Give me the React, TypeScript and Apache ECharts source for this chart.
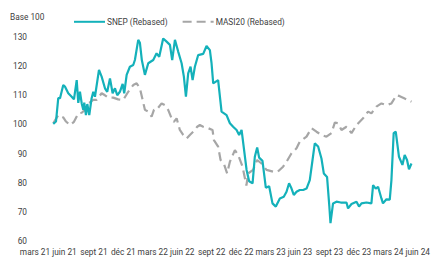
import React, { useEffect, useRef } from "react";
import * as echarts from "echarts";

// months since March 2021
const tickLabels = ["mars 21", "juin 21", "sept 21", "déc 21", "mars 22", "juin 22", "sept 22", "déc 22", "mars 23", "juin 23", "sept 23", "déc 23", "mars 24", "juin 24"];

const snepMonths = [1.86, 2.14, 2.37, 2.55, 2.88, 3.05, 3.39, 3.74, 3.97, 4.25, 4.41, 4.58, 4.76, 4.92, 5.02, 5.19, 5.33, 5.53, 5.77, 5.94, 6.11, 6.52, 6.79, 7.13, 7.36, 7.64, 7.91, 8.15, 8.38, 8.65, 8.93, 9.09, 9.34, 9.67, 10.01, 10.18, 10.52, 10.69, 10.89, 11.2, 11.54, 12.05, 12.39, 12.66, 13.06, 13.41, 13.75, 13.98, 14.26, 14.59, 14.94, 15.17, 15.38, 15.61, 15.85, 16.06, 16.29, 16.63, 17.14, 17.48, 17.82, 17.99, 18.16, 18.66, 19.01, 19.52, 19.86, 20.19, 20.54, 20.8, 21.05, 21.56, 21.82, 22.17, 22.4, 22.64, 22.84, 23.18, 23.52, 23.86, 24.2, 24.54, 24.95, 25.35, 25.63, 25.89, 26.14, 26.37, 26.65, 26.98, 27.32, 27.67, 28.0, 28.28, 28.51, 28.85, 29.19, 29.43, 29.76, 29.99, 30.11, 30.37, 30.72, 31.16, 31.74, 31.9, 32.25, 32.76, 33.02, 33.27, 33.77, 34.28, 34.45, 34.72, 34.96, 35.3, 35.46, 35.81, 36.15, 36.32, 36.55, 36.76, 37.09, 37.44, 37.67, 37.91, 38.11, 38.36];
const snepValues = [100.2, 101, 109, 109, 113.5, 113, 110.7, 109.5, 108.6, 115.2, 107.4, 111.2, 107.2, 105, 107.5, 103.2, 107, 103.2, 109, 111.2, 109.5, 118.7, 116.4, 112.4, 111.2, 115.8, 110.7, 112.4, 110, 111.2, 113.9, 110.7, 117, 119.8, 120.4, 122.1, 129, 128, 122, 117, 121, 122.1, 124.4, 123.2, 129.5, 128.4, 127.3, 122.1, 129, 125, 121, 116.4, 109.5, 117.5, 119.8, 115.2, 119.8, 123.8, 124.2, 126.9, 125.5, 121, 114.1, 115.2, 104.4, 103.2, 100.4, 99.2, 98.1, 96.4, 98.1, 84.4, 80.5, 79.8, 88.9, 92.1, 88.6, 87.5, 78.3, 78.8, 72.9, 71.8, 74.6, 75.2, 76.9, 79.8, 78, 75.8, 76.9, 77.5, 77.5, 78, 80.9, 87.8, 93.5, 92.4, 88.3, 83.2, 82, 72, 66.1, 72.9, 73.5, 73.2, 73.2, 71.2, 72.7, 73.5, 71.8, 72.9, 73.2, 72.9, 79.2, 78, 78.6, 74.6, 72.9, 74.3, 74.2, 80.9, 97, 97.5, 88.9, 86.1, 89.5, 87.8, 84.6, 86.6];

const masiMonths = [1.86, 2.37, 2.88, 3.16, 3.56, 3.97, 4.41, 4.76, 5.09, 5.43, 5.94, 6.28, 6.79, 7.13, 7.46, 7.97, 8.48, 8.99, 9.5, 10.01, 10.36, 10.69, 10.97, 11.2, 11.54, 11.88, 12.12, 12.39, 12.9, 13.24, 13.57, 13.92, 14.15, 14.43, 14.76, 15.1, 15.45, 15.78, 16.12, 16.53, 16.8, 17.14, 17.65, 18.09, 18.23, 18.66, 18.91, 19.24, 19.58, 19.86, 20.37, 20.7, 21.15, 21.54, 21.72, 22.23, 22.64, 23.08, 23.59, 24.26, 24.74, 25.28, 25.63, 26.14, 26.65, 26.98, 27.67, 28.17, 28.68, 29.19, 29.7, 30.21, 30.55, 30.88, 31.23, 31.74, 32.25, 32.76, 33.43, 33.94, 34.28, 34.79, 35.3, 35.81, 36.32, 36.83, 37.17, 37.67, 38.36];
const masiValues = [100.4, 103.2, 102.4, 101, 99.8, 100.9, 103.8, 104, 105, 107.2, 108.4, 108.4, 110.7, 110, 109.2, 109.2, 108.6, 108.4, 111.2, 113.5, 114.1, 112.4, 108.4, 105, 104.4, 102.7, 105, 105, 107.2, 106.6, 105, 102.1, 100.9, 102.1, 98.1, 96.4, 95.2, 96.4, 97.5, 99.2, 99.8, 99.2, 98.7, 98.1, 94.6, 92.4, 87.8, 86.6, 83.2, 87.2, 91.2, 89.5, 85.5, 79, 83.2, 84.4, 87.8, 86.6, 84.4, 83.8, 83.8, 85.5, 87.2, 90.1, 91.8, 94.1, 95.8, 98.7, 97.5, 96.4, 95.8, 97, 100.6, 100.4, 98.1, 99.2, 97, 99.8, 102.1, 104.4, 103.8, 106.1, 107.2, 106.6, 107.2, 110, 109.7, 108.9, 107.8];

const FONT = "Roboto";
const FS = 8.3;
const TXT = "#404040";

export default function App() {
  const ref = useRef<HTMLDivElement>(null);
  useEffect(() => {
    const chart = echarts.init(ref.current!, null, { renderer: "svg" });
    chart.setOption({
      animation: false,
      textStyle: { fontFamily: FONT },
      graphic: [
        {
          type: "text",
          left: 10,
          top: 13,
          style: { text: "Base 100", fontFamily: FONT, fontSize: FS, fill: TXT },
        },
      ],
      legend: {
        left: 68,
        top: 12,
        itemWidth: 31,
        itemHeight: 12,
        itemGap: 14,
        itemStyle: { opacity: 0 },
        textStyle: { fontFamily: FONT, fontSize: FS, color: TXT, padding: [0, 0, 0, -3] },
        data: ["SNEP (Rebased)", "MASI20 (Rebased)"],
      },
      grid: { left: 35, right: 15, top: 37, bottom: 16, containLabel: false },
      xAxis: {
        type: "value",
        min: 0,
        max: 39,
        interval: 3,
        axisLine: { show: false },
        axisTick: { show: false },
        splitLine: { show: false },
        axisLabel: {
          fontFamily: FONT,
          fontSize: FS,
          color: TXT,
          margin: 7,
          showMinLabel: true,
          showMaxLabel: true,
          hideOverlap: false,
          formatter: (v: number) => tickLabels[Math.round(v / 3)] ?? "",
        },
      },
      yAxis: {
        type: "value",
        min: 60,
        max: 130,
        interval: 10,
        axisLine: { show: false },
        axisTick: { show: false },
        splitLine: { show: false },
        axisLabel: { fontFamily: FONT, fontSize: FS, color: TXT, margin: 8 },
      },
      series: [
        {
          name: "SNEP (Rebased)",
          type: "line",
          showSymbol: false,
          symbol: "none",
          color: "#14B1BA",
          lineStyle: { width: 2.2, color: "#14B1BA" },
          data: snepMonths.map((m, i) => [m, snepValues[i]]),
          z: 3,
        },
        {
          name: "MASI20 (Rebased)",
          type: "line",
          showSymbol: false,
          symbol: "none",
          color: "#A6A6A6",
          lineStyle: { width: 2.2, color: "#A6A6A6", type: [9, 5] },
          data: masiMonths.map((m, i) => [m, masiValues[i]]),
          z: 2,
        },
      ],
    });
    return () => chart.dispose();
  }, []);
  return (
    <div
      ref={ref}
      style={{ position: "absolute", left: 0, top: 0, width: 433, height: 257, background: "#fff" }}
    />
  );
}
